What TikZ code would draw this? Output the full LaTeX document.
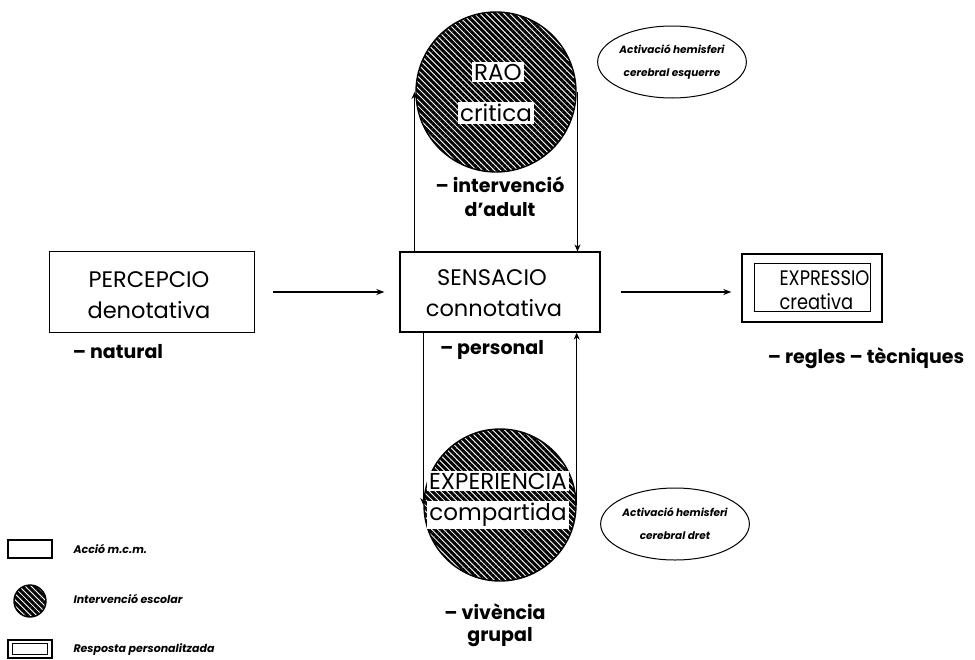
\documentclass[tikz,border=0pt]{standalone}
\usepackage{fontspec}
\setmainfont{Poppins}
\newfontfamily\narrowpop[FakeStretch=0.85]{Poppins}
\usetikzlibrary{patterns.meta,arrows.meta,shapes.geometric}
\begin{document}
\begin{tikzpicture}[x=1pt,y=-1pt,
  actbox/.style={draw, line width=1.3pt, inner sep=0pt},
  hatch/.style={circle, draw, line width=1.4pt, inner sep=0pt,
    pattern={Lines[angle=-45,distance=4.2pt,line width=3pt]}},
  lbl/.style={fill=white, inner sep=2pt, font=\fontsize{23}{23}\selectfont},
  big/.style={font=\fontsize{22.5}{24}\selectfont},
  sub/.style={font=\bfseries\fontsize{19}{22}\selectfont},
  note/.style={ellipse, draw, line width=1pt, inner sep=0pt, align=center,
    font=\bfseries\itshape\fontsize{10.5}{23}\selectfont},
  legtext/.style={anchor=west, font=\bfseries\itshape\fontsize{11}{12}\selectfont},
  conn/.style={line width=0.8pt, -{Stealth[length=7pt,width=6pt]}},
  flow/.style={line width=1.3pt, -{Stealth[length=8pt,width=6pt]}}]
\useasboundingbox (0,0) rectangle (975,659);

% main boxes
\node[actbox, minimum width=205pt, minimum height=81pt] (perc) at (152,292) {};
\node[big] (perct1) at (149,280) {PERCEPCIO};
\node[big] (perct2) at (149,310) {denotativa};
\node[sub] (nat) at (118,352) {-- natural};

\node[actbox, minimum width=200pt, minimum height=80pt] (sens) at (500,292) {};
\node[big] (senst1) at (492,278) {SENSACIO};
\node[big] (senst2) at (494,308) {connotativa};
\node[sub] (pers) at (492,350) {-- personal};

\node[actbox, minimum width=140pt, minimum height=68pt] (expr) at (812,288) {};
\coordinate (ein1) at ([shift={(13,10)}]expr.north west);
\coordinate (ein2) at ([shift={(-12,-11)}]expr.south east);
\draw[line width=1.3pt] (ein1) rectangle (ein2);
\node[anchor=west, font=\narrowpop\fontsize{21}{22}\selectfont] (exprt1) at (776,278) {EXPRESSIO};
\node[anchor=west, font=\narrowpop\fontsize{21}{22}\selectfont] (exprt2) at (776,302) {creativa};
\node[sub] (regl) at (866,358) {-- regles -- tècniques};

\draw[flow] ([xshift=18]perc.east) -- ([xshift=-15]sens.west);
\draw[flow] ([xshift=20]sens.east) -- ([xshift=-10]expr.west |- sens.east);

% top circle
\node[hatch, minimum size=160pt] (rao) at (496,92) {};
\node[lbl] (raot) at (498,72) {RAO};
\node[lbl] (crit) at (496,113) {critica};
\node[sub] (int1) at (500,185) {-- intervenció};
\node[sub] (int2) at (500,210) {d'adult};
\draw[conn] (sens.north -| rao.west) -- (rao.west);
\draw[conn] (rao.east) -- (rao.east |- sens.north);

% bottom circle
\node[hatch, minimum size=152pt] (expe) at (500,505) {};
\node[lbl] (expt1) at (498,481) {EXPERIENCIA};
\node[lbl] (expt2) at (498,515) {compartida};
\node[sub] (viv1) at (495,612) {-- vivència};
\node[sub] (viv2) at (500,637) {grupal};
\draw[conn] (sens.south -| expe.west) -- (expe.west);
\draw[conn] (expe.east) -- (expe.east |- sens.south);

% notes
\node[note, minimum width=148pt, minimum height=72pt] (n1) at (672,62)
  {Activació hemisferi\\cerebral esquerre};
\node[note, minimum width=146pt, minimum height=72pt] (n2) at (675,524)
  {Activació hemisferi\\cerebral dret};

% legend
\node[actbox, minimum width=44pt, minimum height=18pt] (l1) at (30,549) {};
\node[legtext] (l1t) at (70,549) {Acció m.c.m.};
\node[hatch, minimum size=32pt] (l2) at (30,601) {};
\node[legtext] (l2t) at (70,599) {Intervenció escolar};
\node[actbox, minimum width=44pt, minimum height=18pt] (l3) at (30,649) {};
\coordinate (lin1) at ([shift={(5,4)}]l3.north west);
\coordinate (lin2) at ([shift={(-5,-4)}]l3.south east);
\draw[line width=1.2pt] (lin1) rectangle (lin2);
\node[legtext] (l3t) at (70,650) {Resposta personalitzada};
\end{tikzpicture}
\end{document}
